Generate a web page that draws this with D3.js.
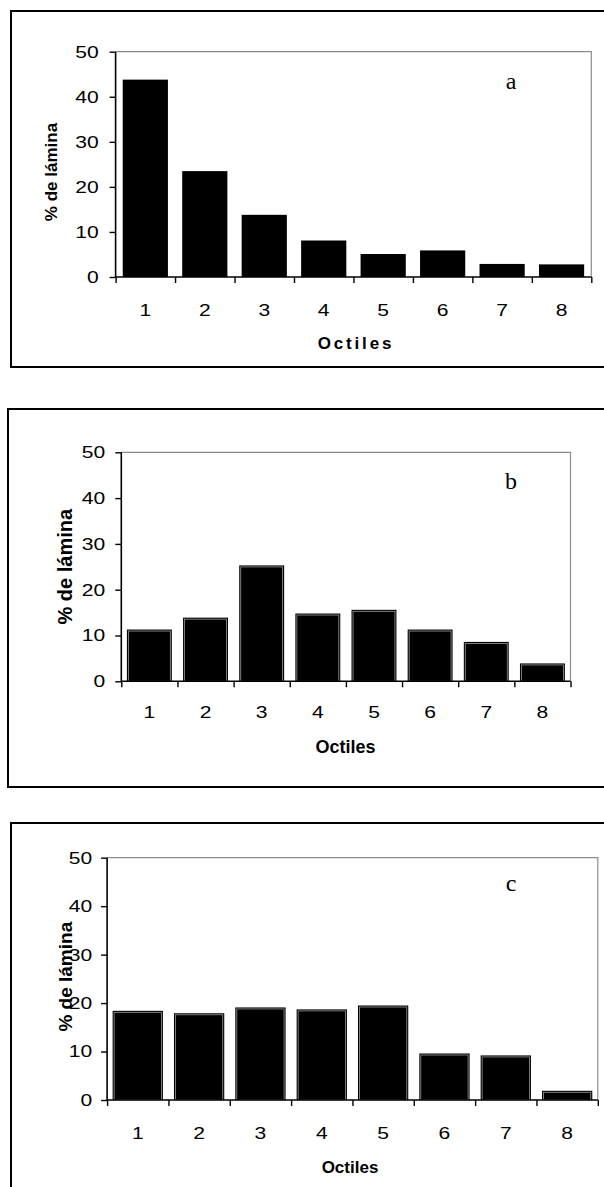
<!DOCTYPE html>
<html>
<head>
<meta charset="utf-8">
<script src="https://cdn.jsdelivr.net/npm/d3@7"></script>
<style>
  body { margin: 0; background: #fff; }
  svg { display: block; }
</style>
</head>
<body>
<svg width="604" height="1187"></svg>
<script>
// data (% de lámina per octile)
var octiles = ["1", "2", "3", "4", "5", "6", "7", "8"];
var valuesA = [43.8, 23.5, 13.8, 8.1, 5.1, 5.9, 2.9, 2.8];
var valuesB = [11.3, 13.9, 25.3, 14.8, 15.6, 11.3, 8.6, 3.9];
var valuesC = [18.4, 17.9, 19.1, 18.7, 19.5, 9.6, 9.2, 1.9];
var yTicks = [0, 10, 20, 30, 40, 50];
var panelLetters = ["a", "b", "c"];
var xTitle = "Octiles";
var yTitle = "% de lámina";

var svg = d3.select("svg");
var sans = "Liberation Sans, Arial, sans-serif";
var serif = "Liberation Serif, Times New Roman, serif";
var stretch = 1.24; // the scanned figure is a bit wider than tall

// layout of each boxed panel (pixels in the page)
var panels = [
    {values: valuesA, letter: panelLetters[0],
     box: [11, 11, 700, 356], x0: 115.6, x1: 591.3, yTop: 51.7, yZero: 277,
     pad: 0.24, outline: false, tickPad: 11, tickY: 316, titleX: 356, titleY: 349, titleSize: 17, spacing: 2.8,
     yLabX: 51, yLabY: 172, yLabSize: 17, letterX: 511, letterY: 89},
    {values: valuesB, letter: panelLetters[1],
     box: [8, 409, 700, 378], x0: 121.3, x1: 570.5, yTop: 452.3, yZero: 681.3,
     pad: 0.2, outline: true, tickPad: 10, tickY: 717.5, titleX: 345.5, titleY: 752.5, titleSize: 18, spacing: 0,
     yLabX: 64.5, yLabY: 566.7, yLabSize: 20, letterX: 511, letterY: 489},
    {values: valuesC, letter: panelLetters[2],
     box: [11, 823, 700, 500], x0: 107.1, x1: 597.8, yTop: 857.7, yZero: 1100,
     pad: 0.18, outline: true, tickPad: 9, tickY: 1139, titleX: 350, titleY: 1172.5, titleSize: 17, spacing: 0,
     yLabX: 65, yLabY: 976.7, yLabSize: 19, letterX: 511, letterY: 891}
];

panels.forEach(function(p) {
    var g = svg.append("g");

    // outer frame around the panel
    g.append("rect")
        .attr("x", p.box[0]).attr("y", p.box[1])
        .attr("width", p.box[2]).attr("height", p.box[3])
        .attr("fill", "none")
        .attr("stroke", "#000")
        .attr("stroke-width", 2);

    var x = d3.scaleBand()
        .domain(octiles)
        .range([p.x0, p.x1])
        .paddingInner(p.pad)
        .paddingOuter(p.pad / 2);
    var xEdge = d3.scaleLinear().domain([0, octiles.length]).range([p.x0, p.x1]);
    var y = d3.scaleLinear().domain([0, 50]).range([p.yZero, p.yTop]);

    // grey top and right border of plot area
    g.append("path")
        .attr("d", "M" + p.x0 + "," + y(50) + "H" + p.x1 + "V" + y(0))
        .attr("fill", "none")
        .attr("stroke", "#8c8c8c")
        .attr("stroke-width", 1.2);

    // bars
    g.selectAll(".bar")
        .data(p.values).enter()
        .append("rect")
        .attr("x", function(d, i) { return x(octiles[i]); })
        .attr("y", function(d) { return y(d); })
        .attr("width", x.bandwidth())
        .attr("height", function(d) { return y(0) - y(d); })
        .attr("fill", "#000");

    if (p.outline) {
        // thin light line just inside each bar edge
        g.selectAll(".inner")
            .data(p.values).enter()
            .append("rect")
            .attr("x", function(d, i) { return x(octiles[i]) + 1.5; })
            .attr("y", function(d) { return y(d) + 1.5; })
            .attr("width", x.bandwidth() - 3)
            .attr("height", function(d) { return y(0) - y(d) - 1.5; })
            .attr("fill", "none")
            .attr("stroke", "#9a9a9a")
            .attr("stroke-width", 0.8);
    }

    // y axis
    var yAxis = g.append("g")
        .attr("transform", "translate(" + p.x0 + ",0)")
        .call(d3.axisLeft(y).tickValues(yTicks).tickSize(6).tickPadding(p.tickPad));
    yAxis.select(".domain").attr("stroke-width", 1.6).attr("d", "M0," + y(0) + "V" + y(50));
    yAxis.selectAll(".tick line").attr("stroke-width", 1.4);
    yAxis.selectAll("text")
        .attr("font-family", sans)
        .attr("font-size", 17)
        .attr("fill", "#000")
        .each(function() {
            var t = d3.select(this);
            var tx = +t.attr("x");
            t.attr("x", 0).attr("transform", "translate(" + tx + ",0) scale(" + stretch + ",1)");
        });

    // x axis: ticks on category boundaries
    var xAxis = g.append("g")
        .attr("transform", "translate(0," + p.yZero + ")")
        .call(d3.axisBottom(xEdge).tickValues(d3.range(octiles.length + 1)).tickSize(6).tickFormat(""));
    xAxis.select(".domain").attr("stroke-width", 1.6).attr("d", "M" + p.x0 + ",0H" + p.x1);
    xAxis.selectAll(".tick line").attr("stroke-width", 1.4);

    // category labels centred under the bars
    g.selectAll(".xlab")
        .data(octiles).enter()
        .append("text")
        .attr("transform", function(d) {
            return "translate(" + (x(d) + x.bandwidth() / 2) + "," + p.tickY + ") scale(" + stretch + ",1)";
        })
        .attr("text-anchor", "middle")
        .attr("font-family", sans)
        .attr("font-size", 17)
        .text(function(d) { return d; });

    g.append("text")
        .attr("x", p.titleX)
        .attr("y", p.titleY)
        .attr("text-anchor", "middle")
        .attr("font-family", sans)
        .attr("font-weight", "bold")
        .attr("font-size", p.titleSize)
        .attr("letter-spacing", p.spacing)
        .text(xTitle);

    g.append("text")
        .attr("transform", "translate(" + p.yLabX + "," + p.yLabY + ") rotate(-90)")
        .attr("text-anchor", "middle")
        .attr("dy", "0.35em")
        .attr("font-family", sans)
        .attr("font-weight", "bold")
        .attr("font-size", p.yLabSize)
        .text(yTitle);

    g.append("text")
        .attr("x", p.letterX)
        .attr("y", p.letterY)
        .attr("text-anchor", "middle")
        .attr("font-family", serif)
        .attr("font-size", 24)
        .text(p.letter);
});
</script>
</body>
</html>
